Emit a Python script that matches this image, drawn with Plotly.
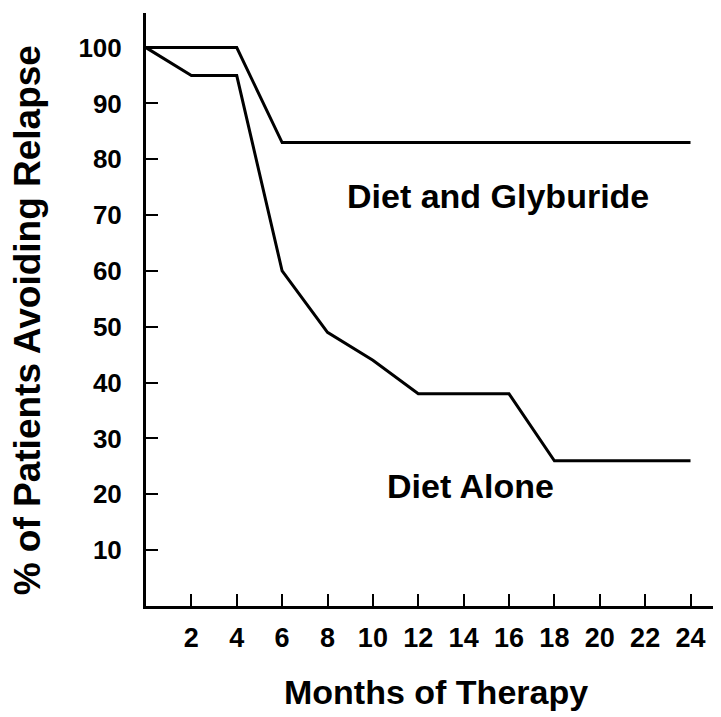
import plotly.graph_objects as go

months_glyb = [0, 4, 6, 24]
pct_glyb = [100, 100, 83, 83]

months_diet = [0, 2, 4, 6, 8, 10, 12, 16, 18, 24]
pct_diet = [100, 95, 95, 60, 49, 44, 38, 38, 26, 26]

x_ticks = [2, 4, 6, 8, 10, 12, 14, 16, 18, 20, 22, 24]
y_ticks = [10, 20, 30, 40, 50, 60, 70, 80, 90, 100]

FONT = "Liberation Sans"

fig = go.Figure()
fig.add_trace(go.Scatter(x=months_glyb, y=pct_glyb, mode="lines",
                         line=dict(color="black", width=3), name="Diet and Glyburide"))
fig.add_trace(go.Scatter(x=months_diet, y=pct_diet, mode="lines",
                         line=dict(color="black", width=3), name="Diet Alone"))

fig.update_layout(
    width=721, height=717,
    margin=dict(l=138, r=9, t=5, b=119),
    plot_bgcolor="white", paper_bgcolor="white",
    showlegend=False,
    font=dict(family=FONT, color="black"),
)
fig.update_xaxes(
    range=[0, 25.3], tickvals=x_ticks, ticktext=[str(v) for v in x_ticks],
    ticks="inside", ticklen=12, tickwidth=2, tickcolor="black",
    showline=True, linecolor="black", linewidth=3, showgrid=False, zeroline=False,
    tickfont=dict(family=FONT, size=27, color="black", weight="bold"),
    ticklabelstandoff=6,
)
fig.update_yaxes(
    range=[0, 106.2], tickvals=y_ticks, ticktext=[str(v) for v in y_ticks],
    ticks="inside", ticklen=12, tickwidth=2, tickcolor="black",
    showline=True, linecolor="black", linewidth=3, showgrid=False, zeroline=False,
    tickfont=dict(family=FONT, size=26, color="black", weight="bold"),
    ticklabelstandoff=16,
)

fig.add_annotation(x=15.5, y=73.5, xref="x", yref="y", text="Diet and Glyburide",
                   showarrow=False, font=dict(family=FONT, size=34, color="black", weight="bold"))
fig.add_annotation(x=14.3, y=21.5, xref="x", yref="y", text="Diet Alone",
                   showarrow=False, font=dict(family=FONT, size=34, color="black", weight="bold"))

fig.add_annotation(x=0.505, y=-0.145, xref="paper", yref="paper",
                   xanchor="center", yanchor="middle", text="Months of Therapy",
                   showarrow=False, font=dict(family=FONT, size=34, color="black", weight="bold"))
fig.add_annotation(x=-0.207, y=0.482, xref="paper", yref="paper",
                   xanchor="center", yanchor="middle", text="% of Patients Avoiding Relapse",
                   textangle=-90,
                   showarrow=False, font=dict(family=FONT, size=37, color="black", weight="bold"))

fig.write_html("out.html")
